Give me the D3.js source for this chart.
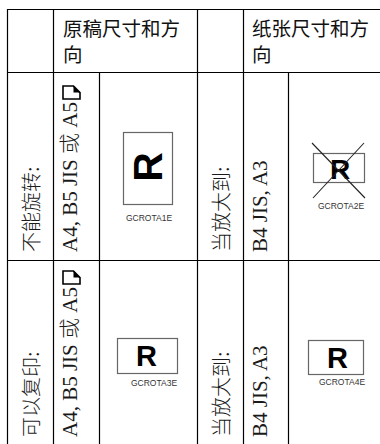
<!DOCTYPE html>
<html><head><meta charset="utf-8">
<script src="https://cdn.jsdelivr.net/npm/d3@7"></script>
<style>html,body{margin:0;padding:0;background:#fff;}svg{display:block;}</style>
</head><body>
<div id="chart"></div>
<script>
// ---- data ----
const headers = ["原稿尺寸和方向", "纸张尺寸和方向"];
const conditions = ["不能旋转:", "可以复印:"];
const originalSizes = ["A4, B5 JIS 或 A5", "A4, B5 JIS 或 A5"];
const enlargeLabels = ["当放大到:", "当放大到:"];
const paperSizes = ["B4 JIS, A3", "B4 JIS, A3"];
const originalImages = ["GCROTA1E", "GCROTA3E"];
const paperImages = ["GCROTA2E", "GCROTA4E"];
const originalRotated = [true, false];
const paperCrossed = [true, false];

// ---- layout ----
const W = 380, H = 444;
const colEdges = [7, 53, 99, 197, 243, 288, 380];
const rowEdges = [9, 72, 260, 446];
const svg = d3.select("#chart").append("svg").attr("width", W).attr("height", H);

const sans = "'Noto Sans CJK SC', 'Noto Sans', sans-serif";
const serif = "'Liberation Serif', 'Noto Sans CJK SC', serif";
const arial = "'Liberation Sans', Arial, sans-serif";

// grid lines
const g = svg.append("g").attr("stroke", "#000").attr("stroke-width", 1.2);
rowEdges.forEach(y => g.append("line").attr("x1", colEdges[0]).attr("x2", W).attr("y1", y + 0.5).attr("y2", y + 0.5));
colEdges.slice(0, -1).forEach((x, i) => {
  const top = (i === 2 || i === 5) ? rowEdges[1] : rowEdges[0];
  g.append("line").attr("x1", x + 0.5).attr("x2", x + 0.5).attr("y1", top).attr("y2", H);
});

// headers (two lines each)
const headerX = [colEdges[1] + 10, colEdges[4] + 9];
headers.forEach((h, i) => {
  [h.slice(0, 6), h.slice(6)].forEach((line, k) => {
    svg.append("text").attr("x", headerX[i]).attr("y", 36 + k * 25.5)
      .attr("font-family", sans).attr("font-size", 19.5).attr("fill", "#111").text(line);
  });
});

// rotated text helper
function vtext(x, y, txt, font, size, weight) {
  return svg.append("text")
    .attr("transform", `translate(${x},${y}) rotate(-90)`)
    .attr("font-family", font).attr("font-size", size).attr("font-weight", weight || "normal")
    .attr("fill", "#1a1a1a")
    .text(txt);
}

conditions.forEach((c, r) => {
  const bottom = rowEdges[r + 2] - 8 - (r === 1 ? 1 : 0);
  vtext(38.5, bottom, c, serif, 20, 300);
  const t2 = vtext(77, bottom, originalSizes[r], serif, 21, 300);
  const len = t2.node().getComputedTextLength();
  // page icon
  const iy1 = bottom - len - 3, iy0 = iy1 - 13;
  svg.append("path").attr("d", `M63,${iy1}L63,${iy0}L73.5,${iy0}L80,${iy0 + 6.5}L80,${iy1}Z`)
    .attr("fill", "none").attr("stroke", "#000").attr("stroke-width", 1.6);
  svg.append("path").attr("d", `M73.5,${iy0}L73.5,${iy0 + 6.5}L80,${iy0 + 6.5}Z`).attr("fill", "#000");
  vtext(228.5, bottom, enlargeLabels[r], serif, 20, 300);
  vtext(267, bottom, paperSizes[r], serif, 21, 300);

  // original image
  const ox = (colEdges[2] + colEdges[3]) / 2;
  if (originalRotated[r]) {
    svg.append("rect").attr("x", 123.5).attr("y", 132.5).attr("width", 49).attr("height", 72)
      .attr("fill", "none").attr("stroke", "#666").attr("stroke-width", 1.2);
    svg.append("text").attr("transform", `translate(${ox + 14},167) rotate(-90)`)
      .attr("text-anchor", "middle").attr("font-family", arial).attr("font-weight", "bold")
      .attr("font-size", 41).attr("fill", "#000").text("R");
    svg.append("text").attr("x", 149).attr("y", 221).attr("text-anchor", "middle")
      .attr("font-family", arial).attr("font-size", 8.5).attr("fill", "#333").text(originalImages[r]);
  } else {
    svg.append("rect").attr("x", 117.5).attr("y", 338.5).attr("width", 60).attr("height", 35)
      .attr("fill", "none").attr("stroke", "#666").attr("stroke-width", 1.2);
    svg.append("text").attr("x", 146.5).attr("y", 366).attr("text-anchor", "middle")
      .attr("font-family", arial).attr("font-weight", "bold").attr("font-size", 29).attr("fill", "#000").text("R");
    svg.append("text").attr("x", 154).attr("y", 386).attr("text-anchor", "middle")
      .attr("font-family", arial).attr("font-size", 8.5).attr("fill", "#333").text(originalImages[r]);
  }
  // paper image
  if (paperCrossed[r]) {
    svg.append("rect").attr("x", 313.5).attr("y", 153.5).attr("width", 51).attr("height", 29)
      .attr("fill", "none").attr("stroke", "#666").attr("stroke-width", 1.2);
    svg.append("text").attr("x", 340).attr("y", 178.5).attr("text-anchor", "middle")
      .attr("font-family", arial).attr("font-weight", "bold").attr("font-size", 28).attr("fill", "#000").text("R");
    svg.append("line").attr("x1", 312).attr("y1", 143).attr("x2", 365).attr("y2", 198).attr("stroke", "#222").attr("stroke-width", 1.1);
    svg.append("line").attr("x1", 364).attr("y1", 143).attr("x2", 313).attr("y2", 198).attr("stroke", "#222").attr("stroke-width", 1.1);
    svg.append("text").attr("x", 341).attr("y", 209).attr("text-anchor", "middle")
      .attr("font-family", arial).attr("font-size", 8.5).attr("fill", "#333").text(paperImages[r]);
  } else {
    svg.append("rect").attr("x", 308.5).attr("y", 340.5).attr("width", 55).attr("height", 34)
      .attr("fill", "none").attr("stroke", "#666").attr("stroke-width", 1.2);
    svg.append("text").attr("x", 337.5).attr("y", 367.5).attr("text-anchor", "middle")
      .attr("font-family", arial).attr("font-weight", "bold").attr("font-size", 29).attr("fill", "#000").text("R");
    svg.append("text").attr("x", 342).attr("y", 385).attr("text-anchor", "middle")
      .attr("font-family", arial).attr("font-size", 8.5).attr("fill", "#333").text(paperImages[r]);
  }
});
</script>
</body></html>
